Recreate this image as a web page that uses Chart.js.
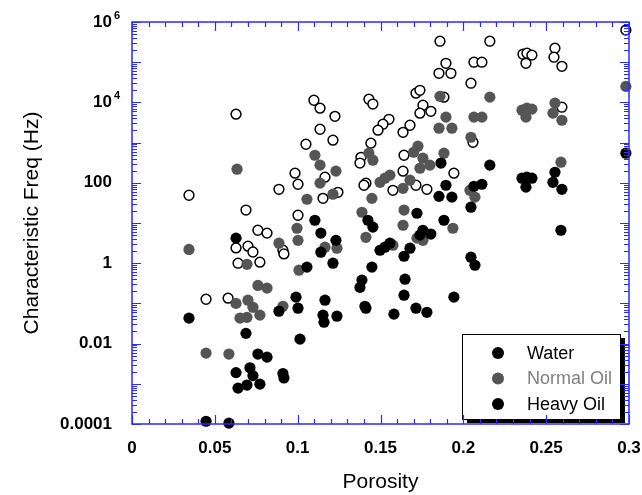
<!DOCTYPE html>
<html>
<head>
<meta charset="utf-8">
<script src="https://cdn.jsdelivr.net/npm/chart.js@4.4.0/dist/chart.umd.min.js"></script>
<style>
  html, body { margin: 0; padding: 0; background: #fff; }
  #wrap { width: 642px; height: 495px; }
</style>
</head>
<body>
<div id="wrap"><canvas id="freqChart" width="642" height="495"></canvas></div>
<script>
// Porosity (x) vs characteristic frequency in Hz (y)

const waterX = [0.0344, 0.0628, 0.0887, 0.0984, 0.1002, 0.0688, 0.1002, 0.1859, 0.1895, 0.1853,
  0.1925, 0.1098, 0.1135, 0.1225, 0.1135, 0.1213, 0.1050, 0.1430, 0.1454, 0.1551,
  0.1515, 0.1485, 0.1442, 0.1714, 0.1738, 0.1756, 0.1738, 0.1804, 0.1678, 0.1636,
  0.1883, 0.1382, 0.1376, 0.1642, 0.1636, 0.1943, 0.1165, 0.1412, 0.1400, 0.1575,
  0.1714, 0.1780, 0.1243, 0.1153, 0.2981, 0.2160, 0.2064, 0.2112, 0.2046, 0.2360,
  0.2384, 0.2414, 0.2378, 0.2553, 0.2547, 0.2595, 0.2595, 0.2058, 0.0760, 0.0815,
  0.0628, 0.0700, 0.0730, 0.0911, 0.0917, 0.0640, 0.0772, 0.0447, 0.0580];
const waterY = [49, 5100, 69, 174, 92, 21, 15.6, 333000, 94000, 53000,
  53000, 11300, 7200, 4500, 2150, 1150, 910, 12000, 9100, 3800,
  2870, 2040, 970, 17000, 20000, 8500, 5400, 6000, 2700, 1800,
  13500, 430, 310, 485, 195, 174, 138, 98, 87, 65,
  87, 69, 58, 41, 630000, 333000, 100000, 100000, 30000, 158000,
  167000, 150000, 94000, 223000, 133000, 79000, 7600, 1020, 6.6, 5.6,
  2.4, 2.65, 1.9, 2.1, 1.7, 1.0, 1.06, 0.127, 0.135];

const normalX = [0.0634, 0.1859, 0.1895, 0.1853, 0.1931, 0.1104, 0.1135, 0.1231, 0.1135, 0.1213,
  0.1056, 0.1430, 0.1454, 0.1726, 0.1700, 0.1756, 0.1738, 0.1798, 0.1883, 0.1497,
  0.1557, 0.1527, 0.1678, 0.1636, 0.1448, 0.1388, 0.1642, 0.2981, 0.2160, 0.2064,
  0.2112, 0.2046, 0.2354, 0.2384, 0.2414, 0.2378, 0.2553, 0.2541, 0.2595, 0.2589,
  0.2070, 0.2040, 0.0344, 0.0996, 0.0887, 0.1002, 0.0694, 0.1008, 0.0760, 0.0815,
  0.0628, 0.0700, 0.0730, 0.0772, 0.0911, 0.0652, 0.0694, 0.0447, 0.0585, 0.1165,
  0.1237, 0.1412, 0.1636, 0.1937, 0.1756, 0.1720, 0.1575];
const normalY = [218, 14200, 4300, 2280, 2280, 485, 275, 195, 98, 52,
  39, 545, 365, 815, 575, 410, 230, 275, 545, 103,
  155, 130, 116, 73, 41, 18.5, 21, 25000, 13500, 4300,
  4300, 1360, 6400, 7200, 6800, 4300, 9600, 5400, 3600, 325,
  44, 65, 2.2, 7.4, 3.15, 3.7, 0.94, 0.67, 0.28, 0.24,
  0.10, 0.12, 0.080, 0.051, 0.085, 0.043, 0.045, 0.0058, 0.0055, 2.5,
  2.36, 4.4, 8.8, 7.4, 3.7, 4.2, 2.8];

const heavyX = [0.1865, 0.1895, 0.1853, 0.1931, 0.1104, 0.1424, 0.1720, 0.1883, 0.2981, 0.2160,
  0.2064, 0.2112, 0.2046, 0.2354, 0.2384, 0.2414, 0.2378, 0.2553, 0.2541, 0.2595,
  0.0628, 0.0344, 0.0887, 0.0990, 0.1002, 0.0688, 0.0760, 0.0815, 0.0628, 0.0712,
  0.0730, 0.0772, 0.0911, 0.0917, 0.0640, 0.0694, 0.0447, 0.0585, 0.1140, 0.1231,
  0.1140, 0.1213, 0.1056, 0.1454, 0.1756, 0.1738, 0.1804, 0.1497, 0.1557, 0.1527,
  0.1678, 0.1642, 0.1448, 0.1388, 0.1376, 0.1648, 0.1642, 0.1165, 0.1153, 0.1159,
  0.1237, 0.1406, 0.1412, 0.1581, 0.1714, 0.1780, 0.1943, 0.1014, 0.2589, 0.2046,
  0.2070];
const heavyY = [310, 87, 46, 44, 11.7, 11.7, 17.5, 11.7, 545, 275,
  82, 92, 24.7, 130, 138, 130, 78, 183, 103, 69,
  4.2, 0.043, 0.064, 0.143, 0.076, 0.018, 0.0055, 0.0046, 0.0019, 0.0025,
  0.0016, 0.00098, 0.0018, 0.0014, 0.00078, 0.00093, 0.000117, 0.000105, 5.6, 3.7,
  1.88, 1.0, 0.8, 7.9, 6.6, 5.0, 5.3, 2.1, 3.15, 2.5,
  2.36, 1.49, 0.8, 0.38, 0.25, 0.40, 0.16, 0.12, 0.051, 0.034,
  0.048, 0.085, 0.076, 0.054, 0.076, 0.060, 0.143, 0.0129, 6.6, 1.41,
  0.89];

const seriesNames = ['Water', 'Normal Oil', 'Heavy Oil'];
const yTickVals = [1e-4, 1e-2, 1, 100, 1e4, 1e6];
const yTickLabels = ['0.0001', '0.01', '1', '100', '10', '10'];
const yTickExps = ['', '', '', '', '4', '6'];
const xTickLabels = ['0', '0.05', '0.1', '0.15', '0.2', '0.25', '0.3'];

const AXIS_BLUE = '#2b2bff';
const FONT = 'Arial, "Liberation Sans", sans-serif';
const Y_LABEL_PAD = 20;

const toPoints = (xs, ys) => xs.map((x, i) => ({ x: x, y: ys[i] }));

// --- inward ticks on all four sides + exponents of the 10^n labels ---
const frameTicks = {
  id: 'frameTicks',
  afterDraw(chart) {
    const { ctx, chartArea: a, scales } = chart;
    const xs = scales.x, ys = scales.y;
    ctx.save();
    ctx.strokeStyle = AXIS_BLUE;
    ctx.lineWidth = 1.5;
    ctx.strokeRect(a.left, a.top, a.right - a.left, a.bottom - a.top);
    ctx.lineWidth = 1.2;
    ctx.beginPath();
    for (let i = 0; i <= 30; i++) {
      const px = Math.round(xs.getPixelForValue(i / 100)) + 0.5;
      const len = i % 5 === 0 ? 9 : 5;
      ctx.moveTo(px, a.bottom); ctx.lineTo(px, a.bottom - len);
      ctx.moveTo(px, a.top); ctx.lineTo(px, a.top + len);
    }
    for (let d = -4; d <= 6; d++) {
      for (let k = 1; k <= 9; k++) {
        if (d === 6 && k > 1) break;
        const py = Math.round(ys.getPixelForValue(k * Math.pow(10, d))) + 0.5;
        const len = k === 1 ? 9 : 5;
        ctx.moveTo(a.left, py); ctx.lineTo(a.left + len, py);
        ctx.moveTo(a.right, py); ctx.lineTo(a.right - len, py);
      }
    }
    ctx.stroke();

    // superscripts next to the "10" labels
    ctx.fillStyle = '#000';
    ctx.font = 'bold 11px ' + FONT;
    ctx.textAlign = 'left';
    ctx.textBaseline = 'middle';
    yTickVals.forEach((v, i) => {
      if (!yTickExps[i]) return;
      ctx.fillText(yTickExps[i], a.left - Y_LABEL_PAD + 2, ys.getPixelForValue(v) - 6);
    });
    ctx.restore();
  }
};

// --- boxed legend with drop shadow in the lower right corner ---
const legendMarkerColors = ['#000', '#555', '#000'];
const legendTextColors = ['#000', '#808080', '#000'];
const legendBox = {
  id: 'legendBox',
  afterDatasetsDraw(chart) {
    const { ctx, chartArea: a } = chart;
    const w = 158, h = 85;
    const x0 = a.right - 167, y0 = a.bottom - 90;
    ctx.save();
    ctx.fillStyle = '#000';
    ctx.fillRect(x0 + 5, y0 + 4, w, h);
    ctx.fillStyle = '#fff';
    ctx.fillRect(x0, y0, w, h);
    ctx.strokeStyle = '#000';
    ctx.lineWidth = 1;
    ctx.strokeRect(x0 + 0.5, y0 + 0.5, w, h);
    ctx.font = '18px ' + FONT;
    ctx.textBaseline = 'middle';
    seriesNames.forEach((name, i) => {
      const cy = y0 + 19 + i * 25.5;
      ctx.fillStyle = legendMarkerColors[i];
      ctx.beginPath();
      ctx.arc(x0 + 36, cy, 6, 0, Math.PI * 2);
      ctx.fill();
      ctx.fillStyle = legendTextColors[i];
      ctx.fillText(name, x0 + 65, cy + 1);
    });
    ctx.restore();
  }
};

const ctx = document.getElementById('freqChart');
new Chart(ctx, {
  type: 'scatter',
  data: {
    datasets: [
      {
        label: seriesNames[0],
        data: toPoints(waterX, waterY),
        backgroundColor: '#fff',
        borderColor: '#000',
        borderWidth: 1.5,
        pointRadius: 4.9,
        clip: false,
        order: 3
      },
      {
        label: seriesNames[1],
        data: toPoints(normalX, normalY),
        backgroundColor: '#555',
        borderColor: '#555',
        borderWidth: 0,
        pointRadius: 5.6,
        clip: false,
        order: 2
      },
      {
        label: seriesNames[2],
        data: toPoints(heavyX, heavyY),
        backgroundColor: '#000',
        borderColor: '#000',
        borderWidth: 0,
        pointRadius: 5.6,
        clip: false,
        order: 1
      }
    ]
  },
  options: {
    responsive: false,
    animation: false,
    events: [],
    layout: { padding: { left: 0, top: 22, right: 13, bottom: 0 } },
    plugins: {
      legend: { display: false },
      tooltip: { enabled: false }
    },
    scales: {
      x: {
        type: 'linear',
        min: 0,
        max: 0.3,
        grid: { display: false, drawTicks: false },
        border: { display: false },
        afterBuildTicks: (s) => { s.ticks = xTickLabels.map((t, i) => ({ value: i * 0.05 })); },
        afterFit: (s) => { s.height = 71; s.paddingLeft = 0; s.paddingRight = 0; },
        ticks: {
          padding: 14,
          maxRotation: 0,
          color: '#000',
          font: { family: FONT, size: 17, weight: 'bold' },
          callback: (v, i) => xTickLabels[i]
        },
        title: {
          display: true,
          text: 'Porosity',
          color: '#000',
          font: { family: FONT, size: 21 },
          padding: { top: 4, bottom: 0 }
        }
      },
      y: {
        type: 'logarithmic',
        min: 1e-4,
        max: 1e6,
        grid: { display: false, drawTicks: false },
        border: { display: false },
        afterBuildTicks: (s) => { s.ticks = yTickVals.map(v => ({ value: v })); },
        afterFit: (s) => { s.width = 132; s.paddingTop = 0; s.paddingBottom = 0; },
        ticks: {
          padding: Y_LABEL_PAD,
          color: '#000',
          font: { family: FONT, size: 17, weight: 'bold' },
          callback: (v, i) => yTickLabels[i]
        },
        title: {
          display: true,
          text: 'Characteristic Freq (Hz)',
          color: '#000',
          font: { family: FONT, size: 21 },
          padding: { top: 20, bottom: 4 }
        }
      }
    }
  },
  plugins: [legendBox, frameTicks]
});
</script>
</body>
</html>
